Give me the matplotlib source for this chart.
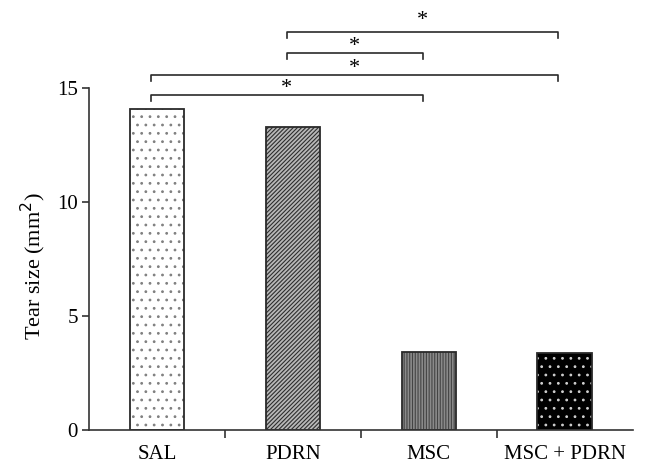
import matplotlib
matplotlib.use("Agg")
import matplotlib.pyplot as plt

groups = ['SAL', 'PDRN', 'MSC', 'MSC + PDRN']
tear_size = [14.1, 13.3, 3.4, 3.38]

# bar fill, hatch pattern, hatch colour
fills = ['white', '#b8b8b8', '#8a8a8a', 'black']
hatches = ['..', '////////', '||||||', '..']
hatch_cols = ['#808080', '#2e2e2e', '#444444', '#cfcfcf']

# significance brackets: (from, to, height)
pairs = [(1, 3, 17.46), (1, 2, 16.54), (0, 3, 15.57), (0, 2, 14.69)]

plt.rcParams['font.family'] = ['Liberation Serif', 'DejaVu Serif']
plt.rcParams['hatch.linewidth'] = 0.8

fig = plt.figure(figsize=(6.47, 4.75), dpi=100)
ax = fig.add_axes([0.1376, 0.0947, 0.84, 0.9053])

x = list(range(len(groups)))
ax.bar(x, tear_size, width=0.4, color=fills, linewidth=0)
for i in x:
    ax.bar(i, tear_size[i], width=0.4, color='none', hatch=hatches[i],
           edgecolor=hatch_cols[i], linewidth=0)
ax.bar(x, tear_size, width=0.4, fill=False, edgecolor='#2a2a2a', linewidth=1.3)

ax.set_xlim(-0.5, 3.5)
ax.set_ylim(0, 18.86)
ax.set_yticks([0, 5, 10, 15])
ax.spines['left'].set_bounds(0, 15)
ax.spines['top'].set_visible(False)
ax.spines['right'].set_visible(False)
for s in ['left', 'bottom']:
    ax.spines[s].set_linewidth(1.2)
    ax.spines[s].set_color('#333333')

ax.set_xticks(x)
ax.set_xticklabels(groups, fontsize=15)
ax.tick_params(axis='x', which='major', length=0, pad=11)
ax.set_xticks([0.5, 1.5, 2.5], minor=True)
ax.tick_params(axis='x', which='minor', length=6, width=1.2, color='#333333', direction='out')
ax.tick_params(axis='y', labelsize=15, length=5, width=1.2, color='#333333', pad=3)
ax.set_ylabel('Tear size (mm$^2$)', fontsize=16)
ax.yaxis.set_label_coords(-0.075, 0.381)

off = 0.045
for k, (a, b, h) in enumerate(pairs):
    ax.plot([a - off, a - off, b - off, b - off], [h - 0.28, h, h, h - 0.28],
            color='#2a2a2a', linewidth=1.2)
    lift = 0.3 if k == 0 else 0.08
    ax.text((a + b) / 2 - off, h + lift, '*', ha='center', va='baseline', fontsize=16)

fig.savefig('out.png', dpi=100)
